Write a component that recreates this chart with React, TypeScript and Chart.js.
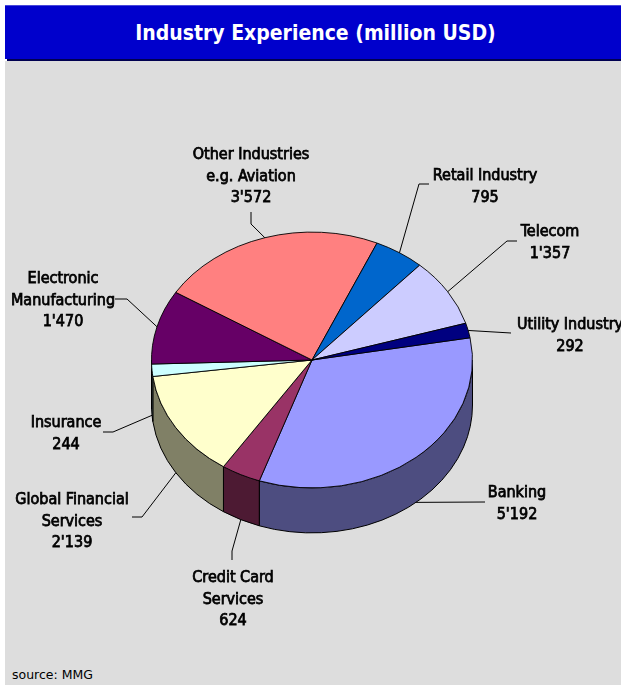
import React, { useEffect, useRef } from "react";
import { Chart, registerables } from "chart.js";

Chart.register(...registerables);

// ---------- data ----------
const categories: string[][] = [
  ["Banking"],
  ["Credit Card", "Services"],
  ["Global Financial", "Services"],
  ["Insurance"],
  ["Electronic", "Manufacturing"],
  ["Other Industries", "e.g. Aviation"],
  ["Retail Industry"],
  ["Telecom"],
  ["Utility Industry"],
];
const values: number[] = [5192, 624, 2139, 244, 1470, 3572, 795, 1357, 292];
const colors: string[] = [
  "#9999FF",
  "#993366",
  "#FFFFCC",
  "#CCFFFF",
  "#660066",
  "#FF8080",
  "#0066CC",
  "#CCCCFF",
  "#000080",
];

// ---------- layout (label placement, not data) ----------
const labelX: number[] = [517, 233, 72, 66, 63, 251, 485, 550, 570];
const labelY: number[] = [497, 582, 504, 427, 283, 159, 180, 236, 329];
const leaderPaths: number[][][] = [
  [[485, 502]],
  [[232, 551], [232, 560]],
  [[142, 517], [132, 517]],
  [[113, 432], [103, 432]],
  [[127, 299], [115, 299]],
  [[251, 224], [251, 212]],
  [[419, 184], [429, 184]],
  [[507, 241], [517, 241]],
  [[511, 333]],
];

const TILT = 0.797;
const DEPTH = 45;
const ROTATION = 80;
const LINE_H = 21.7;
const LABEL_FONT = "16px 'DejaVu Sans Condensed', 'DejaVu Sans', sans-serif";

function fmt(v: number): string {
  return String(v).replace(/\B(?=(\d{3})+(?!\d))/g, "'");
}

function shade(hex: string, f = 0.5): string {
  const n = parseInt(hex.slice(1), 16);
  const r = Math.round(((n >> 16) & 255) * f);
  const g = Math.round(((n >> 8) & 255) * f);
  const b = Math.round((n & 255) * f);
  return `rgb(${r},${g},${b})`;
}

const pie3d = {
  id: "pie3d",
  beforeDatasetsDraw(chart: any) {
    const ctx: CanvasRenderingContext2D = chart.ctx;
    const arcs = chart.getDatasetMeta(0).data;
    if (!arcs.length) return;
    const cx = arcs[0].x;
    const cy = arcs[0].y;
    arcs.forEach((arc: any, i: number) => {
      const p = arc.getProps(["startAngle", "endAngle", "outerRadius"], true);
      const rx = p.outerRadius;
      const ry = p.outerRadius * TILT;
      for (const n of [-2 * Math.PI, 0, 2 * Math.PI]) {
        const lo = Math.max(p.startAngle, n);
        const hi = Math.min(p.endAngle, n + Math.PI);
        if (lo >= hi) continue;
        ctx.beginPath();
        ctx.ellipse(cx, cy, rx, ry, 0, lo, hi, false);
        ctx.lineTo(cx + rx * Math.cos(hi), cy + ry * Math.sin(hi) + DEPTH);
        ctx.ellipse(cx, cy + DEPTH, rx, ry, 0, hi, lo, true);
        ctx.closePath();
        ctx.fillStyle = shade(colors[i]);
        ctx.fill();
        ctx.lineWidth = 1;
        ctx.strokeStyle = "#000";
        ctx.stroke();
      }
    });
    ctx.save();
    ctx.translate(cx, cy);
    ctx.scale(1, TILT);
    ctx.translate(-cx, -cy);
  },
  afterDatasetsDraw(chart: any) {
    const ctx: CanvasRenderingContext2D = chart.ctx;
    ctx.restore();
    const arcs = chart.getDatasetMeta(0).data;
    if (!arcs.length) return;
    const cx = arcs[0].x;
    const cy = arcs[0].y;
    arcs.forEach((arc: any, i: number) => {
      const p = arc.getProps(["startAngle", "endAngle", "outerRadius"], true);
      const mid = (p.startAngle + p.endAngle) / 2;
      const px = cx + p.outerRadius * Math.cos(mid);
      let py = cy + p.outerRadius * TILT * Math.sin(mid);
      if (Math.sin(mid) > 0) py += DEPTH;
      ctx.save();
      ctx.beginPath();
      ctx.moveTo(px, py);
      leaderPaths[i].forEach((pt) => ctx.lineTo(pt[0], pt[1]));
      ctx.lineWidth = 1;
      ctx.strokeStyle = "#000";
      ctx.stroke();
      const lines = [...categories[i], fmt(values[i])];
      ctx.font = LABEL_FONT;
      ctx.textAlign = "center";
      ctx.textBaseline = "alphabetic";
      ctx.fillStyle = "#000";
      ctx.strokeStyle = "#000";
      ctx.lineWidth = 0.75;
      lines.forEach((t, j) => {
        const y = labelY[i] + j * LINE_H;
        ctx.fillText(t, labelX[i], y);
        ctx.strokeText(t, labelX[i], y);
      });
      ctx.restore();
    });
  },
};

export default function App() {
  const ref = useRef<HTMLCanvasElement | null>(null);

  useEffect(() => {
    if (!ref.current) return;
    const chart = new Chart(ref.current, {
      type: "pie",
      data: {
        labels: categories.map((c) => c.join(" ")),
        datasets: [
          {
            data: values,
            backgroundColor: colors,
            borderColor: "#000",
            borderWidth: 1,
          },
        ],
      },
      options: {
        responsive: false,
        animation: false,
        events: [],
        rotation: ROTATION,
        layout: { padding: { left: 151, right: 148, top: 199, bottom: 165 } },
        plugins: {
          legend: { display: false },
          tooltip: { enabled: false },
          title: { display: false },
        },
      },
      plugins: [pie3d],
    });
    return () => chart.destroy();
  }, []);

  const fam = "'DejaVu Sans Condensed', 'DejaVu Sans', sans-serif";

  return (
    <div
      style={{
        position: "fixed",
        left: 0,
        top: 0,
        width: 621,
        height: 686,
        background: "#FFFFFF",
        overflow: "hidden",
      }}
    >
      <div
        style={{
          position: "absolute",
          left: 5,
          top: 5,
          width: 616,
          height: 54,
          background: "#0000CC",
          borderTop: "1px solid #4848DA",
          boxSizing: "border-box",
        }}
      />
      <div
        style={{
          position: "absolute",
          left: 7,
          top: 59,
          width: 614,
          height: 2,
          background: "#000050",
        }}
      />
      <div
        style={{
          position: "absolute",
          left: 5,
          top: 61,
          width: 616,
          height: 624,
          background: "#DDDDDD",
        }}
      />
      <div
        style={{
          position: "absolute",
          left: 5,
          top: 23,
          width: 621,
          textAlign: "center",
          color: "#FFFFFF",
          fontFamily: fam,
          fontStretch: "condensed",
          fontWeight: "bold",
          fontSize: 21,
          lineHeight: "21px",
          whiteSpace: "nowrap",
        }}
      >
        Industry Experience (million USD)
      </div>
      <div
        style={{
          position: "absolute",
          left: 12,
          top: 669,
          color: "#000",
          fontFamily: "'DejaVu Sans', sans-serif",
          fontSize: 12.5,
          lineHeight: "12.5px",
          whiteSpace: "nowrap",
        }}
      >
        source: MMG
      </div>
      <canvas
        ref={ref}
        width={621}
        height={686}
        style={{ position: "absolute", left: 0, top: 0, width: 621, height: 686 }}
      />
    </div>
  );
}
